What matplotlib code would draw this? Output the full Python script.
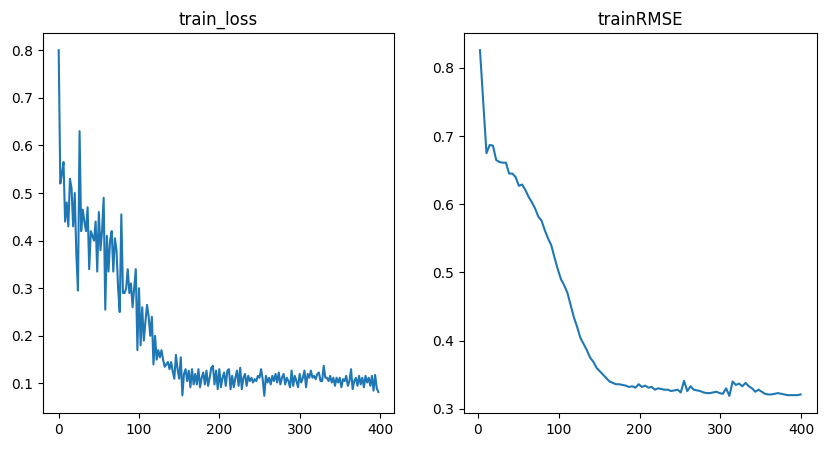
import matplotlib
matplotlib.use("Agg")
import matplotlib.pyplot as plt

# train loss, logged every 2 epochs
loss_epochs = list(range(0, 400, 2))
train_loss = [
    0.80, 0.52, 0.54, 0.565, 0.44, 0.48, 0.43, 0.53, 0.51, 0.43, 0.50, 0.37, 0.295, 0.63, 0.42, 0.465, 0.44, 0.42, 0.47, 0.34,
    0.42, 0.41, 0.40, 0.44, 0.335, 0.46, 0.38, 0.42, 0.49, 0.255, 0.41, 0.335, 0.40, 0.42, 0.335, 0.405, 0.38, 0.30, 0.25, 0.455,
    0.29, 0.29, 0.30, 0.34, 0.29, 0.31, 0.26, 0.30, 0.34, 0.17, 0.30, 0.18, 0.26, 0.19, 0.23, 0.265, 0.24, 0.20, 0.24, 0.14,
    0.20, 0.15, 0.17, 0.155, 0.17, 0.15, 0.135, 0.14, 0.145, 0.13, 0.145, 0.125, 0.11, 0.16, 0.13, 0.11, 0.155, 0.075, 0.12, 0.13,
    0.105, 0.127, 0.092, 0.13, 0.098, 0.12, 0.098, 0.13, 0.092, 0.112, 0.123, 0.098, 0.127, 0.095, 0.112, 0.133, 0.137, 0.098, 0.127, 0.088,
    0.13, 0.092, 0.112, 0.123, 0.095, 0.127, 0.13, 0.088, 0.116, 0.092, 0.112, 0.127, 0.095, 0.133, 0.088, 0.112, 0.12, 0.095, 0.116, 0.105,
    0.112, 0.102, 0.109, 0.105, 0.116, 0.112, 0.13, 0.109, 0.074, 0.116, 0.102, 0.112, 0.098, 0.116, 0.105, 0.12, 0.102, 0.123, 0.098, 0.112,
    0.12, 0.098, 0.112, 0.105, 0.092, 0.127, 0.095, 0.116, 0.105, 0.092, 0.12, 0.102, 0.112, 0.127, 0.092, 0.12, 0.112, 0.127, 0.112, 0.116,
    0.109, 0.12, 0.123, 0.105, 0.105, 0.137, 0.112, 0.112, 0.105, 0.116, 0.102, 0.112, 0.095, 0.112, 0.102, 0.112, 0.092, 0.109, 0.105, 0.116,
    0.095, 0.105, 0.13, 0.088, 0.105, 0.112, 0.095, 0.116, 0.098, 0.112, 0.092, 0.116, 0.102, 0.112, 0.095, 0.116, 0.085, 0.118, 0.09, 0.082,
]

# train RMSE, evaluated every 4 epochs
rmse_epochs = list(range(3, 400, 4))
train_rmse = [
    0.826, 0.750, 0.675, 0.687, 0.686, 0.665, 0.662, 0.661, 0.661, 0.645,
    0.645, 0.640, 0.627, 0.629, 0.621, 0.611, 0.603, 0.594, 0.582, 0.576,
    0.562, 0.550, 0.540, 0.522, 0.505, 0.490, 0.481, 0.470, 0.452, 0.434,
    0.420, 0.404, 0.395, 0.386, 0.375, 0.369, 0.360, 0.355, 0.350, 0.345,
    0.340, 0.338, 0.336, 0.336, 0.335, 0.334, 0.332, 0.333, 0.331, 0.336,
    0.332, 0.334, 0.331, 0.332, 0.328, 0.330, 0.329, 0.328, 0.328, 0.326,
    0.327, 0.328, 0.324, 0.341, 0.326, 0.333, 0.328, 0.327, 0.326, 0.324,
    0.323, 0.323, 0.324, 0.325, 0.323, 0.322, 0.330, 0.319, 0.340, 0.335,
    0.337, 0.333, 0.338, 0.333, 0.330, 0.325, 0.328, 0.325, 0.322, 0.321,
    0.321, 0.322, 0.323, 0.322, 0.321, 0.320, 0.320, 0.320, 0.320, 0.321,
]

fig = plt.figure(figsize=(8.26, 4.51), dpi=100)
ax1 = fig.add_axes([0.0517, 0.084, 0.4257, 0.843])
ax2 = fig.add_axes([0.5617, 0.084, 0.4270, 0.843])

ax1.plot(loss_epochs, train_loss)
ax1.set_title("train_loss")

ax2.plot(rmse_epochs, train_rmse)
ax2.set_title("trainRMSE")

fig.savefig("out.png", dpi=100)
